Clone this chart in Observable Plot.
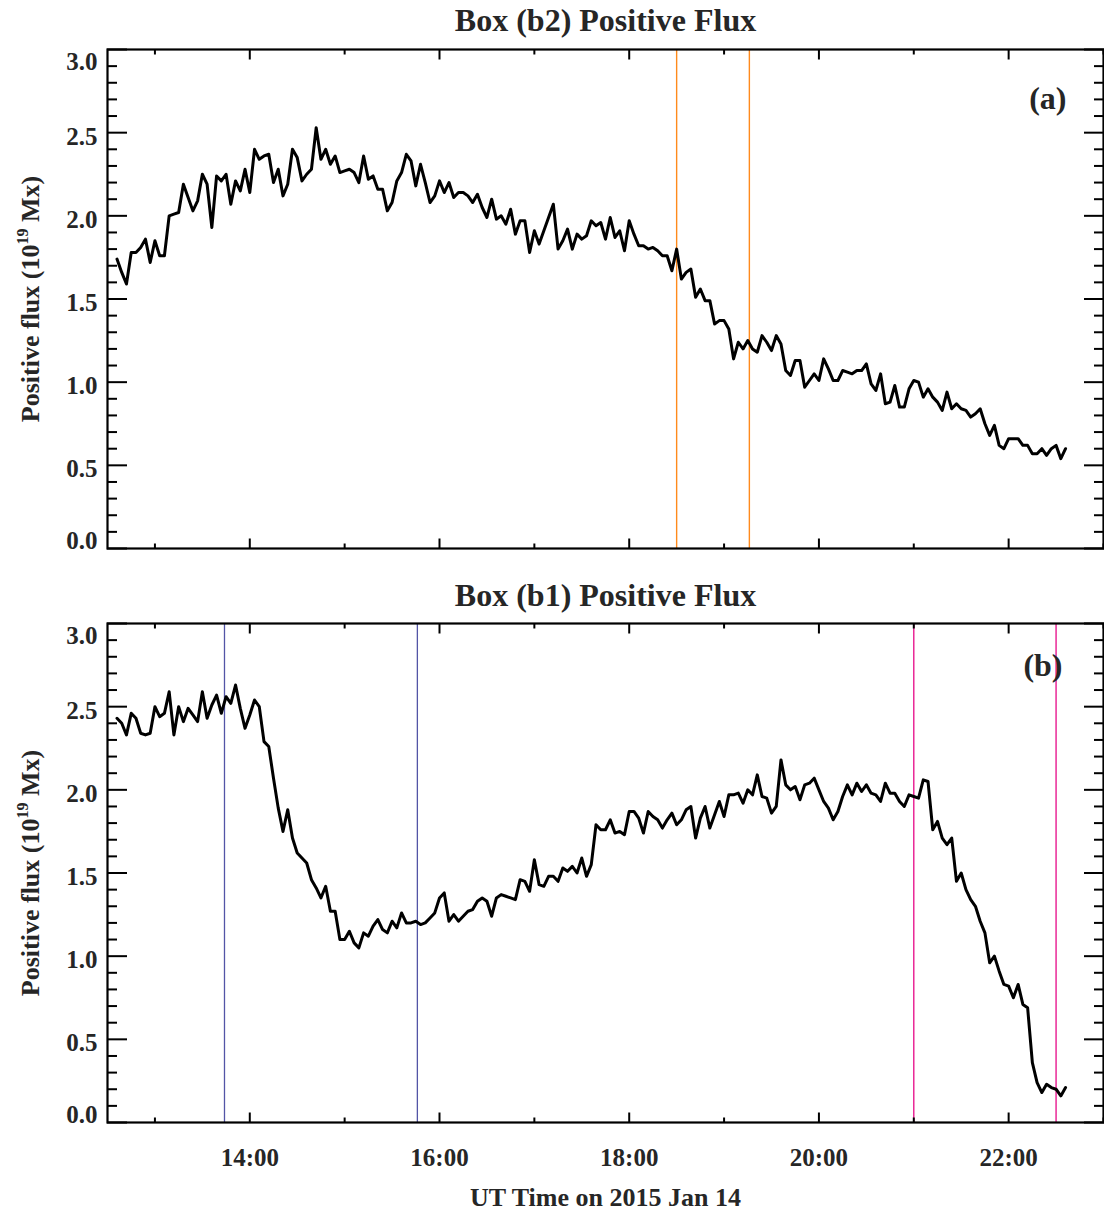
<!DOCTYPE html>
<html><head><meta charset="utf-8">
<script src="https://cdn.jsdelivr.net/npm/d3@7"></script>
<script src="https://cdn.jsdelivr.net/npm/@observablehq/plot@0.6"></script>
<style>
body{margin:0;background:#fff;}
#wrap{position:relative;width:1104px;height:1214px;overflow:hidden;background:#fff;}
#wrap svg{position:absolute;left:0;}
</style></head><body><div id="wrap"></div>
<script>
// ---- data ----
const startHour = 12.6;      // first sample 12:36 UT
const cadenceHours = 0.05;   // 3-minute cadence

// Box (b2) positive flux, 10^19 Mx
const fluxB2 = [
1.74,1.66,1.59,1.78,1.78,1.81,1.86,1.72,1.85,1.76,
1.76,2.00,2.01,2.02,2.19,2.11,2.03,2.09,2.25,2.19,
1.93,2.24,2.21,2.25,2.07,2.21,2.15,2.28,2.14,2.40,
2.34,2.36,2.37,2.20,2.28,2.12,2.19,2.40,2.35,2.21,
2.25,2.28,2.53,2.34,2.40,2.31,2.36,2.26,2.27,2.28,
2.26,2.20,2.36,2.22,2.24,2.16,2.16,2.03,2.08,2.21,
2.26,2.37,2.33,2.18,2.31,2.20,2.08,2.12,2.21,2.14,
2.20,2.11,2.14,2.14,2.12,2.08,2.13,2.05,1.99,2.10,
1.98,2.00,1.95,2.04,1.89,1.97,1.97,1.78,1.91,1.83,
1.91,1.99,2.07,1.80,1.85,1.92,1.80,1.89,1.86,1.88,
1.97,1.94,1.96,1.86,1.99,1.87,1.91,1.79,1.97,1.89,
1.82,1.82,1.80,1.81,1.79,1.76,1.76,1.67,1.80,1.62,
1.66,1.68,1.51,1.56,1.49,1.49,1.35,1.37,1.37,1.32,
1.14,1.24,1.20,1.25,1.20,1.18,1.28,1.24,1.19,1.28,
1.23,1.07,1.04,1.13,1.13,0.97,1.01,1.05,1.01,1.14,
1.08,1.01,1.01,1.07,1.06,1.05,1.07,1.07,1.11,0.99,
0.95,1.05,0.87,0.88,0.98,0.85,0.85,0.96,1.01,1.00,
0.91,0.96,0.91,0.88,0.83,0.94,0.84,0.87,0.84,0.83,
0.79,0.81,0.84,0.75,0.68,0.74,0.62,0.60,0.66,0.66,
0.66,0.62,0.62,0.57,0.57,0.60,0.56,0.60,0.62,0.54,
0.60];

// Box (b1) positive flux, 10^19 Mx
const fluxB1 = [
2.43,2.40,2.33,2.46,2.43,2.34,2.33,2.34,2.50,2.44,
2.46,2.59,2.33,2.50,2.41,2.49,2.45,2.41,2.59,2.43,
2.51,2.57,2.46,2.56,2.52,2.63,2.49,2.37,2.45,2.54,
2.50,2.29,2.26,2.07,1.89,1.75,1.88,1.71,1.62,1.59,
1.56,1.46,1.41,1.35,1.42,1.27,1.27,1.10,1.10,1.15,
1.08,1.05,1.14,1.12,1.18,1.22,1.16,1.14,1.21,1.17,
1.26,1.20,1.20,1.21,1.19,1.20,1.23,1.26,1.35,1.38,
1.21,1.25,1.21,1.24,1.27,1.28,1.33,1.35,1.33,1.24,
1.35,1.37,1.36,1.35,1.34,1.46,1.45,1.39,1.58,1.43,
1.42,1.48,1.48,1.45,1.53,1.51,1.54,1.50,1.59,1.48,
1.55,1.79,1.76,1.76,1.82,1.74,1.75,1.73,1.87,1.87,
1.83,1.74,1.87,1.84,1.82,1.77,1.82,1.86,1.79,1.82,
1.88,1.90,1.71,1.83,1.90,1.77,1.85,1.93,1.84,1.97,
1.97,1.98,1.92,2.00,1.97,2.09,1.96,1.95,1.86,1.90,
2.18,2.03,2.00,2.02,1.94,2.03,2.04,2.07,2.00,1.93,
1.89,1.82,1.87,1.96,2.03,1.97,2.04,1.99,2.03,1.98,
1.97,1.93,2.04,1.98,1.98,1.93,1.90,1.97,1.96,1.95,
2.06,2.05,1.76,1.81,1.71,1.67,1.71,1.45,1.50,1.40,
1.34,1.30,1.21,1.14,0.96,1.00,0.91,0.83,0.82,0.75,
0.83,0.71,0.69,0.36,0.24,0.18,0.23,0.21,0.20,0.16,
0.21];

// vertical marker times (hours UT)
const markA = [18.5, 19 + 16/60];           // orange
const markBblue = [13 + 44/60, 15 + 46/60]; // blue
const markBpink = [21.0, 22.5];             // magenta

// axes
const xDomain = [12.5, 23];
const yDomain = [0, 3];
const xMajor = [14, 16, 18, 20, 22];
const xMajorLabels = ["14:00", "16:00", "18:00", "20:00", "22:00"];
const xMinor = [13, 15, 17, 19, 21, 23];
const yMajor = [0, 0.5, 1, 1.5, 2, 2.5, 3];
const yMinor = [0.1,0.2,0.3,0.4,0.6,0.7,0.8,0.9,1.1,1.2,1.3,1.4,1.6,1.7,1.8,1.9,2.1,2.2,2.3,2.4,2.6,2.7,2.8,2.9];
const yMidLabels = [0.5, 1, 1.5, 2, 2.5];

const titleA = "Box (b2) Positive Flux";
const titleB = "Box (b1) Positive Flux";
const yTitle = "Positive flux (10^19 Mx)";
const xTitle = "UT Time on 2015 Jan 14";

const FONT = "'Liberation Serif','Times New Roman',Times,serif";
const TXT = "#262626";

function panel({values, title, letter, letterDx, letterDy, titleDy, marks, top, height, marginTop, marginBottom, xLabels}) {
  const data = values.map((v, i) => ({t: startHour + i * cadenceHours, v}));
  const tickOpts = {fill: "none", stroke: "black", strokeWidth: 2, label: null};
  const lab = {stroke: "none", fill: TXT, fontSize: 25, fontWeight: "bold", fontFamily: FONT, label: null, tickSize: 0};
  const txt = {fill: TXT, fontWeight: "bold", fontFamily: FONT, lineAnchor: "middle"};
  const fmtY = d => d.toFixed(1);
  const m = [
    ...marks,
    Plot.line(data, {x: "t", y: "v", stroke: "black", strokeWidth: 3}),
    Plot.frame({stroke: "black", strokeWidth: 2.2}),
    Plot.axisY(yMajor, {anchor: "left", tickSize: -20, ...tickOpts}),
    Plot.axisY(yMinor, {anchor: "left", tickSize: -10, ...tickOpts}),
    Plot.axisY(yMajor, {anchor: "right", tickSize: -20, ...tickOpts}),
    Plot.axisY(yMinor, {anchor: "right", tickSize: -10, ...tickOpts}),
    Plot.axisX(xMajor, {anchor: "bottom", tickSize: -9.5, ...tickOpts}),
    Plot.axisX(xMinor, {anchor: "bottom", tickSize: -4.5, ...tickOpts}),
    Plot.axisX(xMajor, {anchor: "top", tickSize: -9.5, ...tickOpts}),
    Plot.axisX(xMinor, {anchor: "top", tickSize: -4.5, ...tickOpts}),
    Plot.axisY(yMidLabels, {anchor: "left", tickPadding: 10, dy: 4, tickFormat: fmtY, ...lab}),
    Plot.axisY([0], {anchor: "left", tickPadding: 10, dy: -8, tickFormat: fmtY, ...lab}),
    Plot.axisY([3], {anchor: "left", tickPadding: 10, dy: 12, tickFormat: fmtY, ...lab}),
    Plot.text([title], {frameAnchor: "top", textAnchor: "middle", dy: titleDy, fontSize: 32, ...txt}),
    Plot.text([letter], {frameAnchor: "top-right", textAnchor: "end", dx: letterDx, dy: letterDy, fontSize: 32, ...txt}),
    Plot.text([yTitle], {frameAnchor: "left", textAnchor: "middle", rotate: -90, dx: -77, fontSize: 26, ...txt})
  ];
  if (xLabels) {
    m.push(Plot.axisX(xMajor, {anchor: "bottom", tickPadding: 26, tickFormat: d => xMajorLabels[xMajor.indexOf(d)], ...lab}));
    m.push(Plot.text([xTitle], {frameAnchor: "bottom", textAnchor: "middle", dy: 75, fontSize: 26, ...txt}));
  }
  const svg = Plot.plot({
    width: 1104, height,
    marginLeft: 107, marginRight: 1, marginTop, marginBottom,
    x: {domain: xDomain, axis: null},
    y: {domain: yDomain, axis: null},
    style: {fontFamily: FONT, fontWeight: "bold", background: "transparent", overflow: "visible"},
    marks: m
  });
  svg.style.top = top + "px";
  // superscript in y title
  svg.querySelectorAll("text").forEach(t => {
    if (t.textContent === yTitle) {
      t.textContent = "";
      const ns = "http://www.w3.org/2000/svg";
      const a = document.createElementNS(ns, "tspan"); a.textContent = "Positive flux (10";
      const b = document.createElementNS(ns, "tspan"); b.textContent = "19"; b.setAttribute("dy", "-11"); b.setAttribute("font-size", "16");
      const c = document.createElementNS(ns, "tspan"); c.textContent = " Mx)"; c.setAttribute("dy", "11");
      t.append(a, b, c);
    }
  });
  return svg;
}

const wrap = document.getElementById("wrap");
wrap.append(panel({
  values: fluxB2, title: titleA, letter: "(a)", letterDx: -37, letterDy: 49, titleDy: -29,
  marks: [Plot.ruleX(markA, {stroke: "#FF8A1C", strokeWidth: 1.4})],
  top: 0, height: 575, marginTop: 49, marginBottom: 27, xLabels: false
}));
wrap.append(panel({
  values: fluxB1, title: titleB, letter: "(b)", letterDx: -41, letterDy: 42, titleDy: -28,
  marks: [Plot.ruleX(markBblue, {stroke: "#5355A6", strokeWidth: 1.3}), Plot.ruleX(markBpink, {stroke: "#E8198F", strokeWidth: 1.4})],
  top: 575, height: 639, marginTop: 48, marginBottom: 92, xLabels: true
}));
</script></body></html>
